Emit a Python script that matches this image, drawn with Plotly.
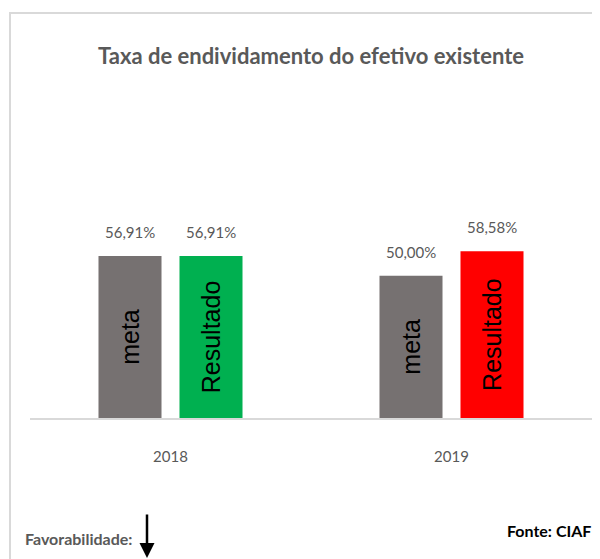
import plotly.graph_objects as go

# Data
categories = ["2018", "2019"]
meta_values = [56.91, 50.00]
resultado_values = [56.91, 58.58]
series_names = ["meta", "Resultado"]
resultado_colors = ["#00B050", "#FF0000"]
meta_color = "#767171"
title_text = "Taxa de endividamento do efetivo existente"

GRAY_TXT = "#595959"
FONT = "Lato, 'Open Sans', sans-serif"
IN_FONT = "'Liberation Sans', Arial, sans-serif"

def fmt(v):
    return f"{v:.2f}".replace(".", ",") + "%"

fig = go.Figure()
fig.add_trace(go.Bar(
    x=categories, y=meta_values, name=series_names[0],
    marker=dict(color=meta_color, line=dict(width=0)),
    text=[series_names[0]] * len(categories), textposition="inside",
    textangle=-90, insidetextanchor="middle",
    insidetextfont=dict(family=IN_FONT, size=25, color="#000000"),
    hoverinfo="skip",
))
fig.add_trace(go.Bar(
    x=categories, y=resultado_values, name=series_names[1],
    marker=dict(color=resultado_colors, line=dict(width=0)),
    text=[series_names[1]] * len(categories), textposition="inside",
    textangle=-90, insidetextanchor="middle",
    insidetextfont=dict(family=IN_FONT, size=25, color="#000000"),
    hoverinfo="skip",
))

annotations = []
for shift, vals in ((-40.5, meta_values), (40.5, resultado_values)):
    for i, v in enumerate(vals):
        annotations.append(dict(
            x=i, y=v, xref="x", yref="y", xshift=shift, yshift=13,
            text=fmt(v), showarrow=False, yanchor="bottom",
            font=dict(family=FONT, size=15, color=GRAY_TXT),
        ))

OFF = 8  # page body margin
W, H = 600 - OFF, 559 - OFF
L, R, T, B = 22, 8, 92, 141
pw, ph = W - L - R, H - T - B

def px(xp):
    return (xp - OFF - L) / pw

def py(yp):
    return (H - B - (yp - OFF)) / ph

annotations.append(dict(
    x=px(23), y=py(538), xref="paper", yref="paper", xanchor="left", yanchor="middle",
    text="<b>Favorabilidade:</b>", showarrow=False,
    font=dict(family=FONT, size=16, color=GRAY_TXT),
))
annotations.append(dict(
    x=px(147), y=py(561), xref="paper", yref="paper",
    text="", showarrow=True, ax=0, ay=-48, arrowhead=2, arrowsize=1.2,
    arrowwidth=2.5, arrowcolor="#000000",
))
annotations.append(dict(
    x=px(593), y=py(530), xref="paper", yref="paper", xanchor="right", yanchor="middle",
    text="<b>Fonte: CIAF</b>", showarrow=False,
    font=dict(family=FONT, size=16, color="#000000"),
))

fig.update_layout(
    width=W, height=H,
    margin=dict(l=L, r=R, t=T, b=B, pad=0),
    paper_bgcolor="#FFFFFF", plot_bgcolor="#FFFFFF",
    showlegend=False,
    barmode="group", bargap=0.4235, bargroupgap=0.222,
    title=dict(
        text=f"<b>{title_text}</b>", x=0.5, xref="paper", xanchor="center",
        y=1 - (56 - OFF) / H, yref="container", yanchor="middle",
        font=dict(family=FONT, size=22, color=GRAY_TXT),
    ),
    xaxis=dict(
        type="category", range=[-0.5, len(categories) - 0.5], autorange=False,
        showline=True, linecolor="#D9D9D9", linewidth=2,
        showgrid=False, ticks="", ticklabelstandoff=24,
        tickfont=dict(family=FONT, size=15, color=GRAY_TXT),
    ),
    yaxis=dict(
        range=[0, ph / (162 / 56.91)], autorange=False, visible=False,
        showgrid=False, zeroline=False,
    ),
    annotations=annotations,
    shapes=[dict(
        type="rect", xref="paper", yref="paper",
        x0=px(10), x1=px(700), y0=py(700), y1=py(13),
        line=dict(color="#D9D9D9", width=2), fillcolor="rgba(0,0,0,0)", layer="below",
    )],
)

fig.write_html("out.html")
